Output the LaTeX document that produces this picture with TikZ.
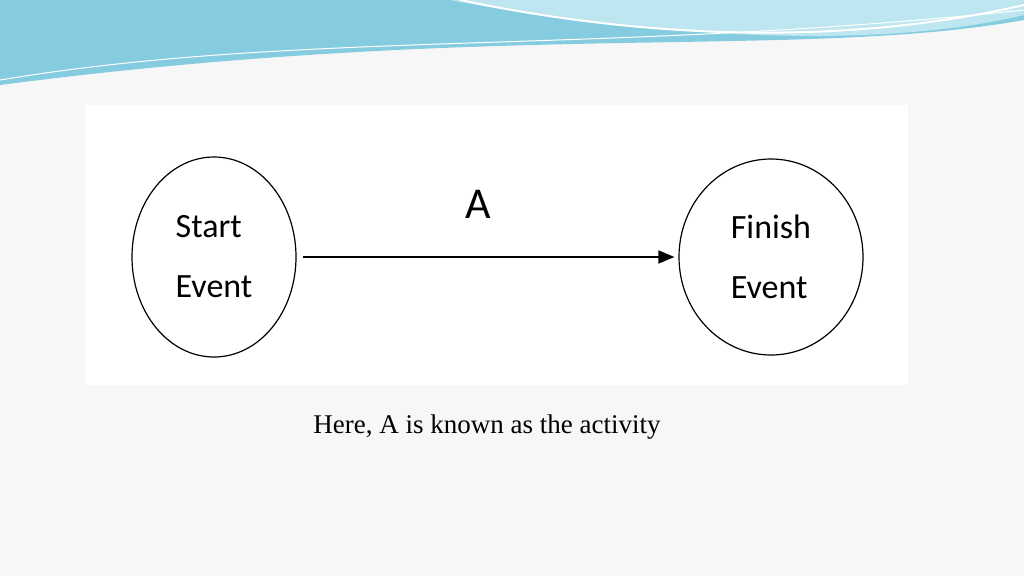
\documentclass[tikz,border=0pt]{standalone}
\usepackage{fontspec}
\setmainfont{Liberation Serif}
\newfontfamily\labelfont{Carlito}
\usetikzlibrary{arrows.meta,positioning,shapes.geometric}
\definecolor{pagebg}{HTML}{F7F7F7}
\definecolor{wavedark}{HTML}{86CCE0}
\definecolor{wavelight}{HTML}{BDE6F0}
\begin{document}
\begin{tikzpicture}[x=1pt,y=-1pt,
    event/.style={draw, ellipse, line width=1.2pt, fill=white, align=left, font=\labelfont\fontsize{34}{60}\selectfont},
    arrow/.style={-{Triangle[length=16pt,width=13pt]}, line width=1.6pt}
]
    \useasboundingbox (0,0) rectangle (1024,576);
    \fill[pagebg] (0,0) rectangle (1024,576);
    % top wave
    \fill[wavedark] (0,0) -- (1024,0) -- (1024,20) .. controls (800,60) and (500,20) .. (0,85) -- cycle;
    \fill[wavelight] (450,0) -- (1024,0) -- (1024,15) .. controls (900,45) and (700,45) .. (450,0) -- cycle;
    \draw[white, line width=2pt] (460,0) .. controls (650,40) and (850,45) .. (1024,5);
    \draw[white, line width=1pt] (0,80) .. controls (300,30) and (600,55) .. (1024,10);
    % panel
    \fill[white] (85,105) rectangle (908,385);
    \node[event, minimum width=164pt, minimum height=200pt] (start) at (214,257) {Start\\Event};
    \node[event, minimum width=184pt, minimum height=196pt] (finish) at (771,257) {Finish\\Event};
    \draw[arrow, shorten <=6pt, shorten >=4pt] (start) -- node[above=34pt, xshift=-9pt, font=\labelfont\fontsize{44}{48}\selectfont] (alabel) {A} (finish);
    \node[font=\fontsize{27}{30}\selectfont] (caption) at (487,427) {Here, A is known as the activity};
\end{tikzpicture}
\end{document}
